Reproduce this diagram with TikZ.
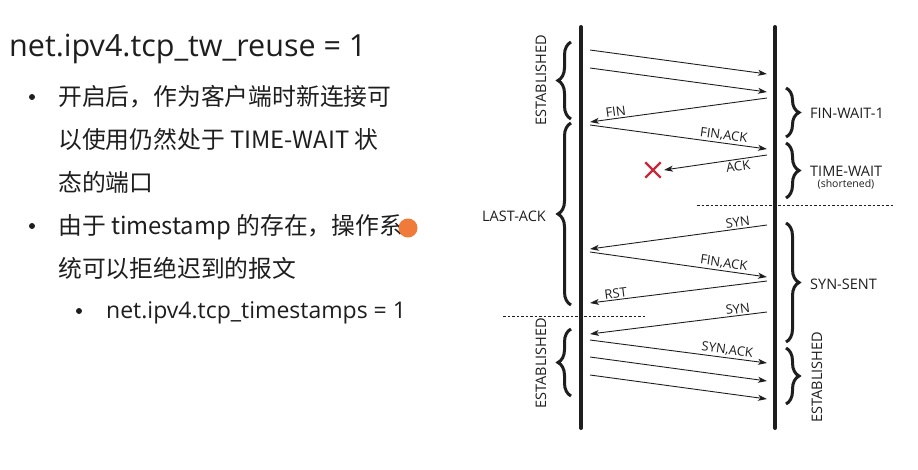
\documentclass[tikz,border=0pt]{standalone}
\usepackage{fontspec}
\setmainfont{Open Sans}
\newfontfamily\cjk{Noto Sans CJK SC}
\usetikzlibrary{arrows.meta,decorations.pathreplacing,shapes.misc}
\definecolor{txt}{HTML}{1E1E1E}
\definecolor{xred}{HTML}{C8283A}
\definecolor{dot}{HTML}{F07A3A}
\begin{document}
\begin{tikzpicture}[x=1pt,y=-1pt,
  timeline/.style={line width=4pt,line cap=round,txt},
  msg/.style={line width=0.9pt,txt,-{Stealth[length=9pt,width=6pt,inset=2.5pt]}},
  lbl/.style={font=\fontsize{13}{13}\selectfont,sloped,inner sep=1.5pt,text=txt},
  state/.style={font=\fontsize{14.5}{14.5}\selectfont,inner sep=0pt,text=txt},
  smallstate/.style={font=\fontsize{10.5}{10.5}\selectfont,inner sep=0pt,text=txt},
  bracel/.style={decorate,decoration={brace,amplitude=13pt},line width=3pt,txt},
  sepline/.style={line width=0.7pt,dash pattern=on 2.5pt off 2pt,txt},
  title/.style={font=\fontsize{30.5}{30.5}\selectfont,anchor=base west,inner sep=0pt,text=txt},
  body/.style={font=\cjk\fontsize{23.8}{23.8}\selectfont,anchor=base west,inner sep=0pt,text=txt},
  subbody/.style={font=\fontsize{23}{23}\selectfont,anchor=base west,inner sep=0pt,text=txt},
  bul/.style={circle,fill=txt,inner sep=0pt,minimum size=6pt},
]
\useasboundingbox (0,0) rectangle (918,469);

% ---- left text ----
\node[title] (title) at (9,56) {net.ipv4.tcp\_tw\_reuse = 1};
\node[bul] (b1) at (32,97) {};
\node[body] (t1) at (58,105) {开启后，作为客户端时新连接可};
\node[body] (t2) at (58,148) {以使用仍然处于 TIME-WAIT 状};
\node[body] (t3) at (58,191) {态的端口};
\node[bul] (b2) at (32,226) {};
\node[body] (t4) at (58,234) {由于 timestamp 的存在，操作系};
\node[body] (t5) at (58,277) {统可以拒绝迟到的报文};
\node[bul] (b3) at (79,311) {};
\node[subbody] (t6) at (106,318) {net.ipv4.tcp\_timestamps = 1};
\node[circle,fill=dot,minimum size=19pt,inner sep=0pt] (cursor) at (408,228) {};

% ---- timelines ----
\coordinate (Lt) at (581,27); \coordinate (Lb) at (581,428);
\coordinate (Rt) at (775,27); \coordinate (Rb) at (775,428);
\draw[timeline] (Lt) -- (Lb);
\draw[timeline] (Rt) -- (Rb);

% ---- separators ----
\coordinate (d1a) at (697,205); \coordinate (d1b) at (893,205);
\coordinate (d2a) at (503,316); \coordinate (d2b) at (645,316);
\draw[sepline] (d1a) -- (d1b);
\draw[sepline] (d2a) -- (d2b);

% ---- message end points ----
\coordinate (m1s) at (590,50);  \coordinate (m1e) at (767,74);
\coordinate (m2s) at (590,68);  \coordinate (m2e) at (767,92);
\coordinate (m3s) at (767,98);  \coordinate (m3e) at (590,122);
\coordinate (m4s) at (590,125); \coordinate (m4e) at (767,149);
\coordinate (m5s) at (767,155); \coordinate (m5e) at (664,170);
\coordinate (m6s) at (767,225); \coordinate (m6e) at (590,249);
\coordinate (m7s) at (590,252); \coordinate (m7e) at (767,277);
\coordinate (m8s) at (767,281); \coordinate (m8e) at (590,303);
\coordinate (m9s) at (767,312); \coordinate (m9e) at (590,334);
\coordinate (m10s) at (590,340); \coordinate (m10e) at (767,363);
\coordinate (m11s) at (590,357); \coordinate (m11e) at (767,381);
\coordinate (m12s) at (590,375); \coordinate (m12e) at (767,399);

\draw[msg] (m1s) -- (m1e);
\draw[msg] (m2s) -- (m2e);
\draw[msg] (m3s) -- node[lbl,above,pos=0.85] (lfin) {FIN} (m3e);
\draw[msg] (m4s) -- node[lbl,above,pos=0.75] (lfa1) {FIN,ACK} (m4e);
\draw[msg] (m5s) -- node[lbl,below,pos=0.29] (lack) {ACK} (m5e);
\draw[msg] (m6s) -- node[lbl,above,pos=0.16] (lsyn1) {SYN} (m6e);
\draw[msg] (m7s) -- node[lbl,above,pos=0.75] (lfa2) {FIN,ACK} (m7e);
\draw[msg] (m8s) -- node[lbl,above,pos=0.85] (lrst) {RST} (m8e);
\draw[msg] (m9s) -- node[lbl,above,pos=0.16] (lsyn2) {SYN} (m9e);
\draw[msg] (m10s) -- node[lbl,above,pos=0.77] (lsa) {SYN,ACK} (m10e);
\draw[msg] (m11s) -- (m11e);
\draw[msg] (m12s) -- (m12e);

\node[cross out,draw=xred,line width=2.4pt,minimum size=13pt,inner sep=0pt] (X) at (653,170) {};

% ---- left braces ----
\coordinate (lb1a) at (571,119); \coordinate (lb1b) at (571,42);
\coordinate (lb2a) at (571,305); \coordinate (lb2b) at (571,123);
\coordinate (lb3a) at (571,396); \coordinate (lb3b) at (571,329);
\draw[bracel] (lb1a) -- (lb1b);
\draw[bracel] (lb2a) -- (lb2b);
\draw[bracel] (lb3a) -- (lb3b);
\node[state,rotate=90] (sEst1) at (541,80) {ESTABLISHED};
\node[state] (sLast) at (514,216) {LAST-ACK};
\node[state,rotate=90] (sEst2) at (541,363) {ESTABLISHED};

% ---- right braces ----
\coordinate (rb1a) at (786,88);  \coordinate (rb1b) at (786,137);
\coordinate (rb2a) at (786,143); \coordinate (rb2b) at (786,198);
\coordinate (rb3a) at (786,223); \coordinate (rb3b) at (786,342);
\coordinate (rb4a) at (786,348); \coordinate (rb4b) at (786,404);
\draw[bracel] (rb1a) -- (rb1b);
\draw[bracel] (rb2a) -- (rb2b);
\draw[bracel] (rb3a) -- (rb3b);
\draw[bracel] (rb4a) -- (rb4b);
\node[state,anchor=west] (sFin) at (810,113) {FIN-WAIT-1};
\node[state,anchor=west] (sTw) at (810,171) {TIME-WAIT};
\node[smallstate] (sShort) at (846,184) {(shortened)};
\node[state,anchor=west] (sSyn) at (810,284) {SYN-SENT};
\node[state,rotate=90] (sEst3) at (817,377) {ESTABLISHED};
\end{tikzpicture}
\end{document}
